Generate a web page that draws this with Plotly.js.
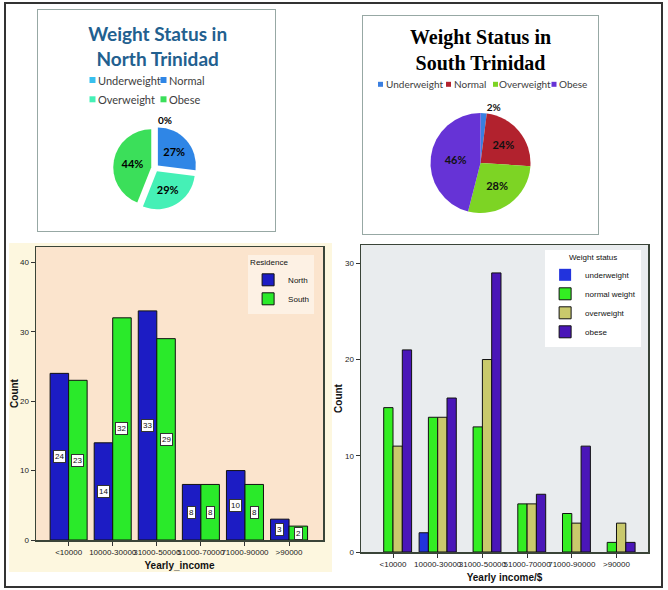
<!DOCTYPE html>
<html><head><meta charset="utf-8">
<script src="https://cdn.plot.ly/plotly-3.0.1.min.js"></script>
<style>
html,body{margin:0;padding:0;background:#fff;width:668px;height:590px;overflow:hidden;}
.abs{position:absolute;box-sizing:border-box;}
.frm{pointer-events:none;}
</style></head><body>
<div id="north" class="abs" style="left:37px;top:9px;width:239px;height:223px"></div>
<div class="abs frm" style="left:37px;top:9px;width:239px;height:223px;border:1.5px solid #97a8a4"></div>
<div id="south" class="abs" style="left:362px;top:15px;width:237px;height:220px"></div>
<div class="abs frm" style="left:362px;top:15px;width:237px;height:220px;border:1.5px solid #97a8a4"></div>
<div id="resid" class="abs" style="left:9px;top:243px;width:323px;height:329px"></div>
<div id="wstat" class="abs" style="left:333px;top:238px;width:325px;height:347px"></div>
<div class="abs frm" style="left:4px;top:2px;width:659px;height:586px;border:2px solid #333"></div>
<script>
// ---------- data ----------
const weightCats = ['Underweight', 'Normal', 'Overweight', 'Obese'];
const northPct = [0, 27, 29, 44];
const southPct = [2, 24, 28, 46];

const incomeCats = ['<10000', '10000-30000', '31000-50000', '51000-70000', '71000-90000', '>90000'];
const northCount = [24, 14, 33, 8, 10, 3];
const southCount = [23, 32, 29, 8, 8, 2];

const statusNames = ['underweight', 'normal weight', 'overweight', 'obese'];
const underweightCount = [0, 2, 0, 0, 0, 0];
const normalCount = [15, 14, 13, 5, 4, 1];
const overweightCount = [11, 14, 20, 5, 3, 3];
const obeseCount = [21, 16, 29, 6, 11, 1];

// ---------- styles ----------
const northColors = ['#38c0ee', '#2f86e6', '#45f0b6', '#3bdf5a'];
const southColors = ['#3a7fe0', '#b2222e', '#7dd424', '#6633d6'];
const residColors = ['#1c1cc4', '#2aea2a'];
const statusColors = ['#2233dd', '#33ee22', '#c9c96c', '#4a16b8'];
const cfg = {staticPlot: true, displayModeBar: false};
const SANS = 'Liberation Sans, Arial, sans-serif';

// pie legend layout (px inside each panel)
function pieLegend(W, H, cats, colors, sqX, txtX, rowY, sq, fsize) {
  const shapes = [], annotations = [];
  cats.forEach((c, i) => {
    shapes.push({type: 'rect', xref: 'paper', yref: 'paper',
      x0: (sqX[i] - sq / 2) / W, x1: (sqX[i] + sq / 2) / W,
      y0: 1 - (rowY[i] + sq / 2) / H, y1: 1 - (rowY[i] - sq / 2) / H,
      fillcolor: colors[i], line: {width: 0}});
    annotations.push({xref: 'paper', yref: 'paper', x: txtX[i] / W, y: 1 - rowY[i] / H,
      xanchor: 'left', yanchor: 'middle', showarrow: false, text: c, borderpad: 0,
      font: {family: 'Lato, sans-serif', size: fsize, color: '#404040'}});
  });
  return {shapes, annotations};
}

// ---------- North pie ----------
(function () {
  const W = 239, H = 223;
  const leg = pieLegend(W, H, weightCats, northColors,
    [55.5, 126.5, 55.5, 126.5], [60, 130.5, 60, 130.5], [71, 71, 90.3, 90.3], 6, 11);
  Plotly.newPlot('north', [{
    type: 'pie', values: northPct, labels: weightCats, sort: false,
    direction: 'clockwise', rotation: 0, pull: [0.1, 0.1, 0.1, 0.1],
    marker: {colors: northColors, line: {width: 0}},
    textinfo: 'percent', textposition: ['outside', 'inside', 'inside', 'inside'],
    insidetextfont: {family: 'Lato, sans-serif', size: 11, color: '#000', weight: 'bold'},
    outsidetextfont: {family: 'Lato, sans-serif', size: 10, color: '#000', weight: 'bold'},
    domain: {x: [(118 - 41.8) / W, (118 + 41.8) / W], y: [(64 - 41.8) / H, (64 + 41.8) / H]},
    showlegend: false
  }], {
    width: W, height: H, margin: {l: 0, r: 0, t: 0, b: 0},
    paper_bgcolor: '#fff', showlegend: false,
    title: {text: 'Weight Status in<br>North Trinidad', x: 0.505, xanchor: 'center',
      y: 1 - 32 / H, yanchor: 'middle', yref: 'container',
      font: {family: 'Lato, sans-serif', size: 19, color: '#22608f', weight: 'bold'}},
    shapes: leg.shapes, annotations: leg.annotations
  }, cfg);
})();

// ---------- South pie ----------
(function () {
  const W = 237, H = 220;
  const leg = pieLegend(W, H, weightCats, southColors,
    [18.5, 86.5, 133.5, 192], [23, 91, 136, 196], [69.3, 69.3, 69.3, 69.3], 5, 10);
  Plotly.newPlot('south', [{
    type: 'pie', values: southPct, labels: weightCats, sort: false,
    direction: 'clockwise', rotation: 0,
    marker: {colors: southColors, line: {width: 0}},
    textinfo: 'percent', textposition: ['outside', 'inside', 'inside', 'inside'],
    insidetextfont: {family: 'Lato, sans-serif', size: 11, color: '#111', weight: 'bold'},
    outsidetextfont: {family: 'Lato, sans-serif', size: 10, color: '#111', weight: 'bold'},
    domain: {x: [(118.5 - 50) / W, (118.5 + 50) / W], y: [(72 - 50) / H, (72 + 50) / H]},
    showlegend: false
  }], {
    width: W, height: H, margin: {l: 0, r: 0, t: 0, b: 0},
    paper_bgcolor: '#fff', showlegend: false,
    title: {text: 'Weight Status in<br>South Trinidad', x: 0.5, xanchor: 'center',
      y: 1 - 29 / H, yanchor: 'middle', yref: 'container',
      font: {family: 'Liberation Serif, serif', size: 20, color: '#000', weight: 'bold'}},
    shapes: leg.shapes, annotations: leg.annotations
  }, cfg);
})();

// ---------- common axis style ----------
function xAxis(range, title) {
  return {type: 'category', range: range, tickangle: 0, ticks: 'outside', ticklen: 4,
    tickcolor: '#333', showline: true, mirror: true, linecolor: '#3a4438', linewidth: 1.5,
    showgrid: false, zeroline: false,
    tickfont: {family: SANS, size: 8, color: '#222'},
    title: {text: title, standoff: 6, font: {family: SANS, size: 10, color: '#111', weight: 'bold'}}};
}
function yAxis(range) {
  return {range: range, dtick: 10, ticks: 'outside', ticklen: 4, tickcolor: '#333',
    showline: true, mirror: true, linecolor: '#3a4438', linewidth: 1.5,
    showgrid: false, zeroline: false,
    tickfont: {family: SANS, size: 8, color: '#222'},
    title: {text: 'Count', standoff: 4, font: {family: SANS, size: 10, color: '#111', weight: 'bold'}}};
}
// no outline on empty (zero-count) bars
function outlineWidths(v) { return v.map(val => (val > 0 ? 1 : 0)); }

// ---------- Residence bar chart ----------
(function () {
  const names = ['North', 'South'];
  const series = [northCount, southCount];
  const traces = series.map((v, k) => ({
    type: 'bar', x: incomeCats, y: v, name: names[k],
    marker: {color: residColors[k], line: {color: '#111', width: outlineWidths(v)}}
  }));
  const bargap = 0.16, bw = (1 - bargap) / series.length;
  const annotations = [];
  series.forEach((v, k) => v.forEach((val, i) => {
    annotations.push({x: i - (1 - bargap) / 2 + bw * (k + 0.5), y: val / 2, xref: 'x', yref: 'y',
      text: String(val), showarrow: false, bgcolor: '#fff', bordercolor: '#333',
      borderwidth: 1, borderpad: 1, font: {family: SANS, size: 8, color: '#111'}});
  }));
  Plotly.newPlot('resid', traces, {
    width: 323, height: 329, margin: {l: 27, r: 9, t: 4, b: 32},
    paper_bgcolor: '#fdf7df', plot_bgcolor: '#fbe4cd',
    barmode: 'group', bargap: bargap, bargroupgap: 0,
    xaxis: xAxis([-0.74, 5.77], 'Yearly_income'),
    yaxis: yAxis([0, 42.2]),
    showlegend: true,
    legend: {x: 0.969, xanchor: 'right', y: 0.973, yanchor: 'top', bgcolor: '#fdf1e4',
      font: {family: SANS, size: 8, color: '#111'},
      title: {text: 'Residence', font: {family: SANS, size: 8, color: '#111'}}},
    annotations: annotations
  }, cfg);
})();

// ---------- Weight status bar chart ----------
(function () {
  const series = [underweightCount, normalCount, overweightCount, obeseCount];
  const traces = series.map((v, k) => ({
    type: 'bar', x: incomeCats, y: v, name: statusNames[k],
    marker: {color: statusColors[k], line: {color: '#111', width: outlineWidths(v)}}
  }));
  Plotly.newPlot('wstat', traces, {
    width: 325, height: 347, margin: {l: 28, r: 10, t: 7, b: 33},
    paper_bgcolor: '#fff', plot_bgcolor: '#e9ecee',
    barmode: 'group', bargap: 0.168, bargroupgap: 0,
    xaxis: xAxis([-0.716, 5.705], 'Yearly income/$'),
    yaxis: yAxis([0, 31.9]),
    showlegend: true,
    legend: {x: 0.976, xanchor: 'right', y: 0.984, yanchor: 'top', bgcolor: '#fff',
      font: {family: SANS, size: 8, color: '#111'},
      title: {text: 'Weight status', side: 'top center', font: {family: SANS, size: 8, color: '#111'}}}
  }, cfg);
})();
</script>
</body></html>
